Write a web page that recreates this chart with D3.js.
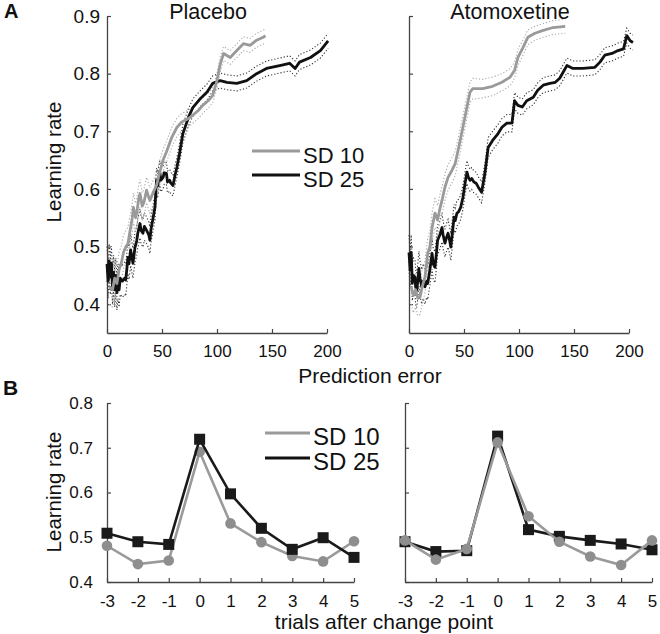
<!DOCTYPE html>
<html><head><meta charset="utf-8">
<script src="https://cdn.jsdelivr.net/npm/d3@7"></script>
<style>
body{margin:0;background:#fff}
svg text{font-family:"Liberation Sans",Arial,Helvetica,sans-serif;fill:#111}
</style>
</head><body>
<svg id="chart" width="660" height="634"></svg>
<script>
// ---------- data ----------
const panelTitles = ["Placebo", "Atomoxetine"];
const seriesNames = ["SD 10", "SD 25"];
const peTicks = [0, 50, 100, 150, 200];
const lrTicksA = [0.4, 0.5, 0.6, 0.7, 0.8, 0.9];
const trials = [-3, -2, -1, 0, 1, 2, 3, 4, 5];
const lrTicksB = [0.4, 0.5, 0.6, 0.7, 0.8];

// [prediction error, learning rate, CI half-width]
const placeboSD10 = [[2,0.43,0.03],[5,0.425,0.03],[7,0.445,0.03],[9,0.436,0.03],[11,0.46,0.03],[13,0.471,0.03],[15,0.49,0.03],[17,0.499,0.028],[19,0.505,0.028],[21,0.528,0.026],[23,0.55,0.026],[24,0.568,0.025],[26,0.55,0.025],[27,0.558,0.025],[29,0.585,0.024],[30,0.592,0.024],[32,0.57,0.023],[33.6,0.577,0.023],[36,0.598,0.022],[38,0.585,0.022],[39,0.58,0.022],[42,0.594,0.021],[45,0.606,0.02],[48,0.629,0.02],[51,0.65,0.019],[54,0.664,0.018],[59,0.69,0.017],[63.6,0.707,0.016],[68,0.716,0.015],[74,0.722,0.015],[78,0.728,0.014],[83,0.736,0.014],[87,0.745,0.014],[92,0.753,0.013],[96,0.762,0.013],[100,0.788,0.013],[103,0.817,0.013],[106,0.835,0.012],[112,0.828,0.012],[118,0.84,0.012],[124,0.852,0.012],[130,0.849,0.012],[136,0.858,0.012],[142,0.863,0.012],[144,0.866,0.012]];
const placeboSD25 = [[0,0.47,0.03],[1,0.44,0.03],[2,0.475,0.03],[3,0.447,0.03],[4,0.471,0.03],[5,0.43,0.03],[6,0.455,0.03],[7,0.425,0.03],[8,0.45,0.03],[9,0.42,0.03],[10,0.44,0.03],[11,0.425,0.03],[12,0.445,0.028],[14,0.44,0.028],[16,0.445,0.028],[17,0.442,0.028],[18,0.46,0.028],[19,0.481,0.028],[20,0.47,0.027],[21.5,0.494,0.027],[23.6,0.471,0.026],[25.5,0.499,0.026],[27,0.51,0.025],[28,0.523,0.025],[30,0.54,0.025],[31,0.528,0.024],[32.7,0.523,0.024],[34,0.535,0.024],[36,0.528,0.023],[38,0.52,0.023],[39,0.511,0.023],[40,0.53,0.023],[42,0.551,0.022],[43.6,0.568,0.022],[45,0.615,0.021],[46,0.605,0.021],[48,0.629,0.02],[49,0.615,0.02],[51,0.62,0.02],[52,0.628,0.02],[54,0.627,0.019],[55,0.612,0.019],[57,0.615,0.019],[58,0.61,0.019],[60,0.606,0.018],[62,0.625,0.018],[63.6,0.638,0.017],[66,0.662,0.017],[69,0.696,0.016],[74,0.724,0.015],[78,0.741,0.015],[85,0.757,0.014],[91,0.768,0.014],[96,0.783,0.013],[103,0.788,0.013],[109,0.785,0.013],[118,0.783,0.013],[127,0.788,0.013],[136,0.8,0.013],[145,0.809,0.013],[157,0.814,0.013],[166,0.818,0.013],[171,0.809,0.013],[175,0.82,0.013],[185,0.828,0.013],[194,0.84,0.013],[201,0.857,0.013]];
const atoSD10 = [[2,0.43,0.03],[4,0.415,0.03],[6,0.425,0.03],[8,0.41,0.03],[10,0.412,0.03],[12,0.43,0.03],[14.5,0.447,0.028],[17,0.488,0.027],[19,0.5,0.027],[21,0.533,0.026],[23.6,0.558,0.025],[26,0.546,0.025],[28,0.565,0.024],[30,0.58,0.024],[32.7,0.603,0.023],[35.5,0.62,0.022],[39,0.632,0.022],[42,0.644,0.021],[46,0.679,0.02],[49,0.707,0.02],[52.7,0.742,0.019],[55.5,0.768,0.018],[58,0.774,0.018],[67,0.774,0.016],[76,0.778,0.016],[84.5,0.785,0.015],[92,0.794,0.015],[96,0.806,0.014],[99,0.828,0.014],[103.6,0.845,0.013],[108,0.863,0.013],[114.5,0.87,0.012],[122,0.875,0.012],[131,0.88,0.012],[142,0.882,0.012]];
const atoSD25 = [[0,0.49,0.03],[1,0.46,0.03],[2,0.49,0.03],[3,0.436,0.03],[4,0.45,0.03],[5.5,0.447,0.03],[6,0.43,0.03],[7,0.424,0.03],[8,0.44,0.03],[9,0.462,0.03],[10,0.445,0.03],[11.6,0.43,0.03],[13,0.44,0.03],[14.5,0.43,0.03],[16,0.44,0.028],[17,0.436,0.028],[19,0.46,0.028],[21,0.488,0.027],[22,0.47,0.027],[23.6,0.464,0.027],[25,0.49,0.026],[26,0.511,0.026],[28,0.52,0.025],[30,0.533,0.025],[31,0.52,0.024],[32.7,0.506,0.024],[34,0.515,0.024],[35.5,0.523,0.024],[37,0.51,0.023],[38,0.499,0.023],[39.5,0.525,0.023],[41,0.551,0.022],[42,0.545,0.022],[43.6,0.558,0.022],[45,0.56,0.022],[47,0.568,0.021],[49,0.585,0.021],[51,0.61,0.02],[52.7,0.629,0.02],[54,0.62,0.02],[55.5,0.615,0.019],[57,0.618,0.019],[59,0.612,0.019],[61,0.61,0.019],[63,0.603,0.018],[66,0.594,0.018],[69,0.627,0.017],[72,0.672,0.017],[76,0.684,0.016],[81,0.696,0.016],[84.5,0.707,0.015],[89,0.714,0.015],[93.6,0.714,0.015],[96,0.753,0.014],[99,0.745,0.014],[103,0.742,0.014],[107,0.753,0.014],[113,0.759,0.013],[117,0.771,0.013],[122,0.78,0.013],[128,0.783,0.013],[133,0.785,0.013],[137,0.792,0.013],[143.6,0.814,0.013],[149,0.809,0.013],[158,0.809,0.013],[169,0.811,0.013],[173.6,0.82,0.013],[178,0.832,0.013],[184.5,0.835,0.013],[190,0.84,0.013],[195,0.843,0.013],[198,0.866,0.013],[201,0.857,0.013],[203.6,0.854,0.013]];

// learning rate at trials after change point
const cpPlaceboSD10 = [0.481, 0.440, 0.448, 0.691, 0.531, 0.489, 0.458, 0.446, 0.491];
const cpPlaceboSD25 = [0.509, 0.490, 0.484, 0.719, 0.597, 0.520, 0.473, 0.499, 0.455];
const cpAtoSD10 = [0.493, 0.450, 0.474, 0.712, 0.547, 0.490, 0.457, 0.438, 0.493];
const cpAtoSD25 = [0.490, 0.468, 0.470, 0.726, 0.517, 0.502, 0.493, 0.485, 0.472];

// ---------- styles ----------
const GRAY = "#9a9a9a", BLACK = "#111111", AXIS = "#444";
const svg = d3.select("#chart");

function styleAxis(g, fs) {
  g.select(".domain").attr("stroke", AXIS).attr("stroke-width", 1.3);
  g.selectAll(".tick line").attr("stroke", AXIS).attr("stroke-width", 1.2);
  g.selectAll(".tick text").attr("font-size", fs).attr("fill", "#111")
    .style("font-family", '"Liberation Sans", Arial, sans-serif');
}

// ---------- Panel A ----------
const yA = d3.scaleLinear().domain([0.35, 0.9]).range([333, 16]);
const panelsA = [
  {x0: 107, title: panelTitles[0], s10: placeboSD10, s25: placeboSD25, labels: true},
  {x0: 409, title: panelTitles[1], s10: atoSD10, s25: atoSD25, labels: false}
];
panelsA.forEach(p => {
  const x = d3.scaleLinear().domain([0, 200]).range([p.x0, p.x0 + 220]);
  const g = svg.append("g");
  const xg = g.append("g").attr("transform", "translate(0,333)")
    .call(d3.axisBottom(x).tickValues(peTicks).tickSizeInner(-4).tickSizeOuter(0).tickPadding(12));
  styleAxis(xg, 17);
  const yg = g.append("g").attr("transform", `translate(${p.x0},0)`)
    .call(d3.axisLeft(yA).tickValues(lrTicksA).tickSizeInner(-4).tickSizeOuter(0).tickPadding(7)
      .tickFormat(p.labels ? d3.format(".1f") : () => ""));
  styleAxis(yg, 19);

  const line = d3.line().x(d => x(d[0])).y(d => yA(d[1]));
  const up = d3.line().x(d => x(d[0])).y(d => yA(d[1] + d[2]));
  const lo = d3.line().x(d => x(d[0])).y(d => yA(d[1] - d[2]));
  [[p.s25, BLACK, "#333"], [p.s10, GRAY, "#aaa"]].forEach(([data, col, cic]) => {
    [up, lo].forEach(f => g.append("path").datum(data).attr("d", f)
      .attr("fill", "none").attr("stroke", cic).attr("stroke-width", 1.1)
      .attr("stroke-dasharray", "1.2,2"));
  });
  g.append("path").datum(p.s25).attr("d", line).attr("fill", "none")
    .attr("stroke", BLACK).attr("stroke-width", 2.8).attr("stroke-linejoin", "round");
  g.append("path").datum(p.s10).attr("d", line).attr("fill", "none")
    .attr("stroke", GRAY).attr("stroke-width", 2.8).attr("stroke-linejoin", "round");

  g.append("text").attr("x", p.x0 + 101).attr("y", 19).attr("text-anchor", "middle")
    .attr("font-size", 21.5).text(p.title);
});

// Panel A legend
[[GRAY, 151, 163, seriesNames[0]], [BLACK, 175, 187, seriesNames[1]]].forEach(([c, ly, ty, t]) => {
  svg.append("line").attr("x1", 252).attr("x2", 300).attr("y1", ly).attr("y2", ly)
    .attr("stroke", c).attr("stroke-width", 3);
  svg.append("text").attr("x", 303).attr("y", ty).attr("font-size", 22).text(t);
});

svg.append("text").attr("transform", "translate(61,162) rotate(-90)")
  .attr("text-anchor", "middle").attr("font-size", 20.5).text("Learning rate");
svg.append("text").attr("x", 370).attr("y", 383).attr("text-anchor", "middle")
  .attr("font-size", 21).text("Prediction error");
svg.append("text").attr("x", 4).attr("y", 18).attr("font-size", 20)
  .attr("font-weight", "bold").text("A");

// ---------- Panel B ----------
const yB = d3.scaleLinear().domain([0.4, 0.8]).range([582, 403]);
const panelsB = [
  {x0: 107, s10: cpPlaceboSD10, s25: cpPlaceboSD25, labels: true, grayTop: false},
  {x0: 405, s10: cpAtoSD10, s25: cpAtoSD25, labels: false, grayTop: true}
];
panelsB.forEach(p => {
  const x = d3.scaleLinear().domain([-3, 5]).range([p.x0, p.x0 + 247]);
  const g = svg.append("g");
  const xg = g.append("g").attr("transform", "translate(0,582)")
    .call(d3.axisBottom(x).tickValues(trials).tickSizeInner(-4).tickSizeOuter(0).tickPadding(13)
      .tickFormat(d3.format("d")));
  styleAxis(xg, 17);
  xg.selectAll(".tick text").text(d => d < 0 ? "-" + Math.abs(d) : d);
  const yg = g.append("g").attr("transform", `translate(${p.x0},0)`)
    .call(d3.axisLeft(yB).tickValues(lrTicksB).tickSizeInner(-4).tickSizeOuter(0).tickPadding(14)
      .tickFormat(p.labels ? d3.format(".1f") : () => ""));
  styleAxis(yg, 17);

  const line = d3.line().x((d, i) => x(trials[i])).y(d => yB(d));
  const drawGray = () => {
    g.append("path").datum(p.s10).attr("d", line).attr("fill", "none")
      .attr("stroke", GRAY).attr("stroke-width", 2.6);
    g.selectAll(null).data(p.s10).enter().append("circle")
      .attr("cx", (d, i) => x(trials[i])).attr("cy", d => yB(d)).attr("r", 5.3)
      .attr("fill", "#8e8e8e");
  };
  const drawBlack = () => {
    g.append("path").datum(p.s25).attr("d", line).attr("fill", "none")
      .attr("stroke", "#1a1a1a").attr("stroke-width", 2.6);
    g.selectAll(null).data(p.s25).enter().append("rect")
      .attr("x", (d, i) => x(trials[i]) - 5.5).attr("y", d => yB(d) - 5.5)
      .attr("width", 11).attr("height", 11).attr("fill", "#1a1a1a");
  };
  if (p.grayTop) { drawBlack(); drawGray(); } else { drawGray(); drawBlack(); }
});

// Panel B legend
[[GRAY, 433, 445, seriesNames[0]], [BLACK, 458, 470, seriesNames[1]]].forEach(([c, ly, ty, t]) => {
  svg.append("line").attr("x1", 265).attr("x2", 310).attr("y1", ly).attr("y2", ly)
    .attr("stroke", c).attr("stroke-width", 3);
  svg.append("text").attr("x", 313).attr("y", ty).attr("font-size", 24).text(t);
});

svg.append("text").attr("transform", "translate(61,492) rotate(-90)")
  .attr("text-anchor", "middle").attr("font-size", 20.5).text("Learning rate");
svg.append("text").attr("x", 384).attr("y", 629).attr("text-anchor", "middle")
  .attr("font-size", 21).text("trials after change point");
svg.append("text").attr("x", 3).attr("y", 395).attr("font-size", 21)
  .attr("font-weight", "bold").text("B");
</script>
</body></html>
